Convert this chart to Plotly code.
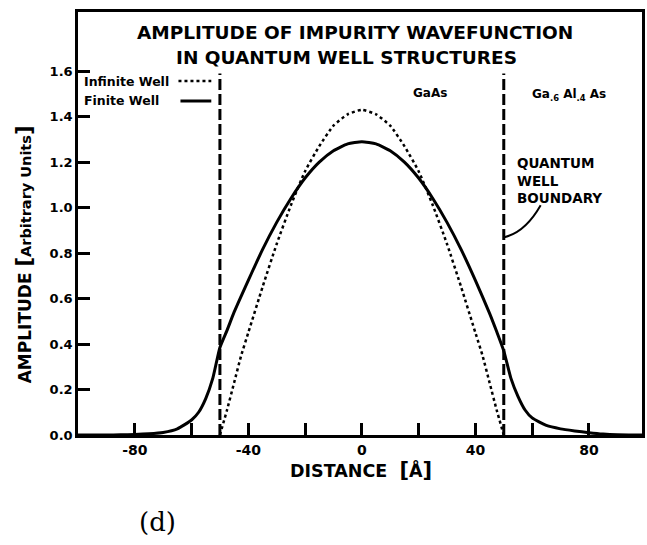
import plotly.graph_objects as go

# Finite quantum well: envelope amplitude versus distance (solid curve)
finite_x = [-100, -90, -85, -80, -75, -70, -65, -60, -57.5, -55, -52.5, -50, -47.5, -45,
            -40, -35, -30, -25, -20, -15, -10, -5, 0,
            5, 10, 15, 20, 25, 30, 35, 40, 45, 47.5, 50, 52.5, 55, 57.5, 60,
            65, 70, 75, 80, 85, 90, 98.7]
finite_amp = [0.0, 0.0, 0.001, 0.002, 0.005, 0.011, 0.027, 0.066, 0.10, 0.16, 0.25, 0.385, 0.46, 0.54,
              0.68, 0.815, 0.935, 1.04, 1.13, 1.20, 1.25, 1.28, 1.29,
              1.28, 1.25, 1.20, 1.13, 1.04, 0.935, 0.815, 0.68, 0.535, 0.455, 0.37, 0.25, 0.17, 0.11, 0.075,
              0.042, 0.027, 0.018, 0.01, 0.004, 0.001, 0.0]

# Infinite quantum well (dotted curve), vanishing at the walls
infinite_x = [-50, -47.5, -45, -42.5, -40, -35, -30, -25, -20, -15, -10, -5, 0,
              5, 10, 15, 20, 25, 30, 35, 40, 42.5, 45, 47.5, 50]
infinite_amp = [0.0, 0.11, 0.23, 0.35, 0.45, 0.65, 0.84, 1.01, 1.16, 1.27, 1.36, 1.41, 1.43,
                1.41, 1.36, 1.27, 1.16, 1.01, 0.84, 0.65, 0.45, 0.35, 0.23, 0.11, 0.0]

# Well boundaries (dashed verticals)
boundary_x = [-50, 50]
boundary_top = 1.59

x_tick_vals = [-80, -60, -40, -20, 0, 20, 40, 60, 80]
x_tick_text = ["-80", "", "-40", "", "0", "", "40", "", "80"]
y_tick_vals = [0.0, 0.2, 0.4, 0.6, 0.8, 1.0, 1.2, 1.4, 1.6]
y_tick_text = ["0.0", "0.2", "0.4", "0.6", "0.8", "1.0", "1.2", "1.4", "1.6"]

X_RANGE = [-100, 98.7]
Y_RANGE = [0, 1.86]

W, H = 647, 545
ML, MR, MT, MB = 78, 2, 12, 110
PW, PH = W - ML - MR, H - MT - MB


def px(x):
    return (x - ML) / PW


def py(y):
    return (H - MB - y) / PH


FONT = "DejaVu Sans"

fig = go.Figure()

fig.add_trace(go.Scatter(
    x=finite_x, y=finite_amp, mode="lines",
    line=dict(color="black", width=3, shape="spline", smoothing=0.5),
    hoverinfo="skip", showlegend=False))

fig.add_trace(go.Scatter(
    x=infinite_x, y=infinite_amp, mode="lines",
    line=dict(color="black", width=2.5, dash="3px,3px", shape="spline", smoothing=0.5),
    hoverinfo="skip", showlegend=False))

for bx in boundary_x:
    fig.add_trace(go.Scatter(
        x=[bx, bx], y=[0, boundary_top], mode="lines",
        line=dict(color="black", width=3, dash="11px,4px"),
        hoverinfo="skip", showlegend=False))

annotations = [
    dict(text="AMPLITUDE OF IMPURITY WAVEFUNCTION", x=px(356), y=py(33),
         font=dict(size=18.5, weight="bold")),
    dict(text="IN QUANTUM WELL STRUCTURES", x=px(348), y=py(57),
         font=dict(size=18.5, weight="bold")),
    dict(text="AMPLITUDE <span style='font-size:21px'>[</span>"
              "<span style='font-size:14.5px'>Arbitrary Units</span>"
              "<span style='font-size:21px'>]</span>",
         x=px(24), y=py(254), textangle=-90, font=dict(size=17, weight="bold")),
    dict(text="DISTANCE  <span style='font-size:21px'>[</span>Å<span style='font-size:21px'>]</span>",
         x=px(363), y=py(470), font=dict(size=17.5, weight="bold")),
    dict(text="(d)", x=px(158), y=py(522), font=dict(size=26, family="DejaVu Serif")),
    dict(text="GaAs", x=px(432), y=py(93), font=dict(size=12, weight="bold")),
    dict(text="Ga<sub>.6</sub> Al<sub>.4</sub> As", x=px(572), y=py(95),
         font=dict(size=12, weight="bold")),
    dict(text="QUANTUM<br>WELL<br>BOUNDARY", x=px(517), y=py(180), xanchor="left", align="left",
         font=dict(size=13.5, weight="bold")),
    dict(text="Infinite Well", x=px(82), y=py(81), xanchor="left",
         font=dict(size=12.5, weight="bold")),
    dict(text="Finite Well", x=px(82), y=py(101), xanchor="left",
         font=dict(size=12.5, weight="bold")),
]
for a in annotations:
    a.setdefault("xanchor", "center")
    a.setdefault("yanchor", "middle")
    a["xref"] = "paper"
    a["yref"] = "paper"
    a["showarrow"] = False
    a["font"].setdefault("family", FONT)
    a["font"].setdefault("color", "black")

shapes = [
    # legend samples
    dict(type="line", xref="paper", yref="paper", x0=px(179), x1=px(212), y0=py(81), y1=py(81),
         line=dict(color="black", width=2.5, dash="3px,3px")),
    dict(type="line", xref="paper", yref="paper", x0=px(181), x1=px(212), y0=py(101), y1=py(101),
         line=dict(color="black", width=3)),
    # leader from the boundary label to the right wall
    dict(type="path", xref="x", yref="y", path="M 63,1.01 Q 57.5,0.89 50.2,0.87",
         line=dict(color="black", width=2)),
]

fig.update_layout(
    width=W, height=H, autosize=False,
    margin=dict(l=ML, r=MR, t=MT, b=MB, pad=0),
    paper_bgcolor="white", plot_bgcolor="white",
    font=dict(family=FONT, color="black"),
    annotations=annotations, shapes=shapes,
    xaxis=dict(range=X_RANGE, showgrid=False, zeroline=False,
               showline=True, linecolor="black", linewidth=2.5, mirror=True,
               ticks="inside", ticklen=12, tickwidth=2.5, tickcolor="black",
               tickvals=x_tick_vals, ticktext=x_tick_text,
               tickfont=dict(size=14, weight="bold")),
    yaxis=dict(range=Y_RANGE, showgrid=False, zeroline=False,
               showline=True, linecolor="black", linewidth=2.5, mirror=True,
               ticks="inside", ticklen=12, tickwidth=2.5, tickcolor="black",
               tickvals=y_tick_vals, ticktext=y_tick_text,
               tickfont=dict(size=13, weight="bold")),
)

fig.write_html("out.html")
